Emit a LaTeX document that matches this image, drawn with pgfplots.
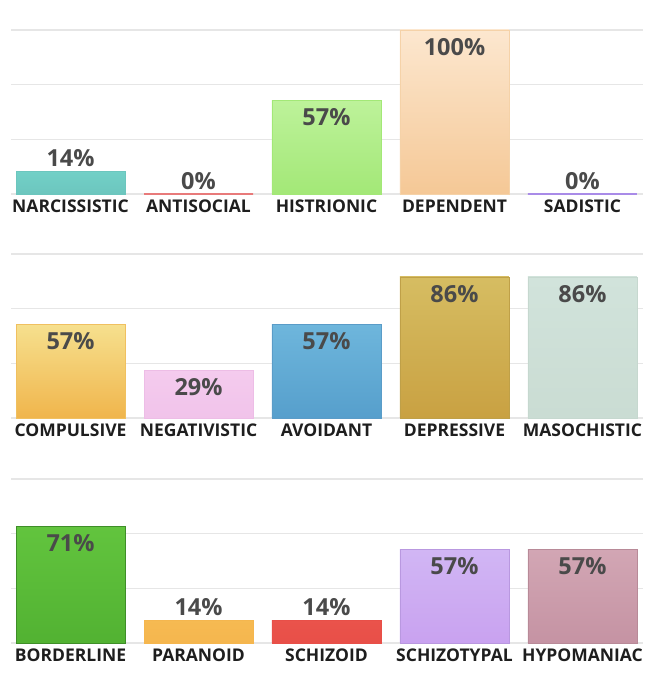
\documentclass[border=0pt]{standalone}
\usepackage{pgfplots}
\pgfplotsset{compat=1.18}
\usepackage{fontspec}
\setmainfont{Open Sans}

\definecolor{gridc}{HTML}{E6E6E6}
\definecolor{valc}{HTML}{4A4A4A}
\definecolor{labc}{HTML}{1E1E1E}
% bar colours: top, bottom, border
\definecolor{narT}{HTML}{72D0C7}\definecolor{narB}{HTML}{6CC6BE}
\definecolor{antL}{HTML}{E87A7A}
\definecolor{hisT}{HTML}{BDF29A}\definecolor{hisB}{HTML}{A3E877}
\definecolor{depT}{HTML}{FCE7CF}\definecolor{depB}{HTML}{F5C896}\definecolor{depD}{HTML}{F5D2A8}
\definecolor{sadL}{HTML}{A98BE8}
\definecolor{comT}{HTML}{F6E08E}\definecolor{comB}{HTML}{F0B54C}\definecolor{comD}{HTML}{F0C060}
\definecolor{negT}{HTML}{F4CBEE}\definecolor{negB}{HTML}{F1C3EA}\definecolor{negD}{HTML}{EDBDE6}
\definecolor{avoT}{HTML}{6EB6DC}\definecolor{avoB}{HTML}{569FCC}\definecolor{avoD}{HTML}{5A9CC8}
\definecolor{dprT}{HTML}{D6BD62}\definecolor{dprB}{HTML}{C9A142}\definecolor{dprD}{HTML}{BFA048}
\definecolor{masT}{HTML}{D1E3DB}\definecolor{masB}{HTML}{CADCD3}\definecolor{masD}{HTML}{C6D8CF}
\definecolor{borT}{HTML}{62C43E}\definecolor{borB}{HTML}{52B232}\definecolor{borD}{HTML}{3E8E28}
\definecolor{parT}{HTML}{F6BA52}\definecolor{parB}{HTML}{F5B64E}
\definecolor{schT}{HTML}{EA534B}\definecolor{schB}{HTML}{E84F48}
\definecolor{styT}{HTML}{D1B6F4}\definecolor{styB}{HTML}{C9A2F0}\definecolor{styD}{HTML}{B998E0}
\definecolor{hypT}{HTML}{D2A6B4}\definecolor{hypB}{HTML}{C593A3}\definecolor{hypD}{HTML}{B88A98}

\pgfplotsset{
  row/.style={
    ybar, bar shift=0pt, bar width=109pt,
    scale only axis, width=632pt, height=164pt,
    anchor=south west,
    xmin=-0.465, xmax=4.473, ymin=0, ymax=100,
    axis line style={draw=none}, major tick length=0pt,
    ytick={0,33.33,66.67,100}, yticklabels={},
    ymajorgrids, grid style={gridc, line width=1.2pt},
    xtick={0,1,2,3,4},
    xticklabel style={anchor=base, yshift=-19pt,
      font=\fontsize{17.5}{20}\selectfont\bfseries, text=labc},
    clip=false,
    nodes near coords={\pgfmathprintnumber[assume math mode=true]{\pgfplotspointmeta}\%},
    every node near coord/.style={font=\fontsize{23.5}{26}\selectfont\bfseries,
      text=valc, anchor=center},
  },
  in/.style={every node near coord/.append style={yshift=-17pt}},
  out/.style={every node near coord/.append style={yshift=13pt}},
  bar/.style n args={3}{draw=#3, line width=0.8pt, top color=#1, bottom color=#2},
}

\begin{document}
\begin{tikzpicture}
  % row 1
  \begin{axis}[row, at={(11pt,486pt)},
    xticklabels={NARCISSISTIC,ANTISOCIAL,HISTRIONIC,DEPENDENT,SADISTIC}]
    \addplot[bar={narT}{narB}{narB}, out] coordinates {(0,14)};
    \addplot[draw=antL, line width=1.5pt, fill=none, out] coordinates {(1,0)};
    \addplot[bar={hisT}{hisB}{hisB}, in] coordinates {(2,57)};
    \addplot[bar={depT}{depB}{depD}, in] coordinates {(3,100)};
    \addplot[draw=sadL, line width=1.5pt, fill=none, out] coordinates {(4,0)};
  \end{axis}
  % row 2
  \begin{axis}[row, at={(11pt,262pt)},
    xticklabels={COMPULSIVE,NEGATIVISTIC,AVOIDANT,DEPRESSIVE,MASOCHISTIC}]
    \addplot[bar={comT}{comB}{comD}, in] coordinates {(0,57)};
    \addplot[bar={negT}{negB}{negD}, in] coordinates {(1,29)};
    \addplot[bar={avoT}{avoB}{avoD}, in] coordinates {(2,57)};
    \addplot[bar={dprT}{dprB}{dprD}, in] coordinates {(3,86)};
    \addplot[bar={masT}{masB}{masD}, in] coordinates {(4,86)};
  \end{axis}
  % row 3
  \begin{axis}[row, at={(11pt,37pt)},
    xticklabels={BORDERLINE,PARANOID,SCHIZOID,SCHIZOTYPAL,HYPOMANIAC}]
    \addplot[bar={borT}{borB}{borD}, in] coordinates {(0,71)};
    \addplot[bar={parT}{parB}{parB}, out] coordinates {(1,14)};
    \addplot[bar={schT}{schB}{schB}, out] coordinates {(2,14)};
    \addplot[bar={styT}{styB}{styD}, in] coordinates {(3,57)};
    \addplot[bar={hypT}{hypB}{hypD}, in] coordinates {(4,57)};
  \end{axis}
  \pgfresetboundingbox
  \useasboundingbox (0,0) rectangle (652pt,680pt);
\end{tikzpicture}
\end{document}
